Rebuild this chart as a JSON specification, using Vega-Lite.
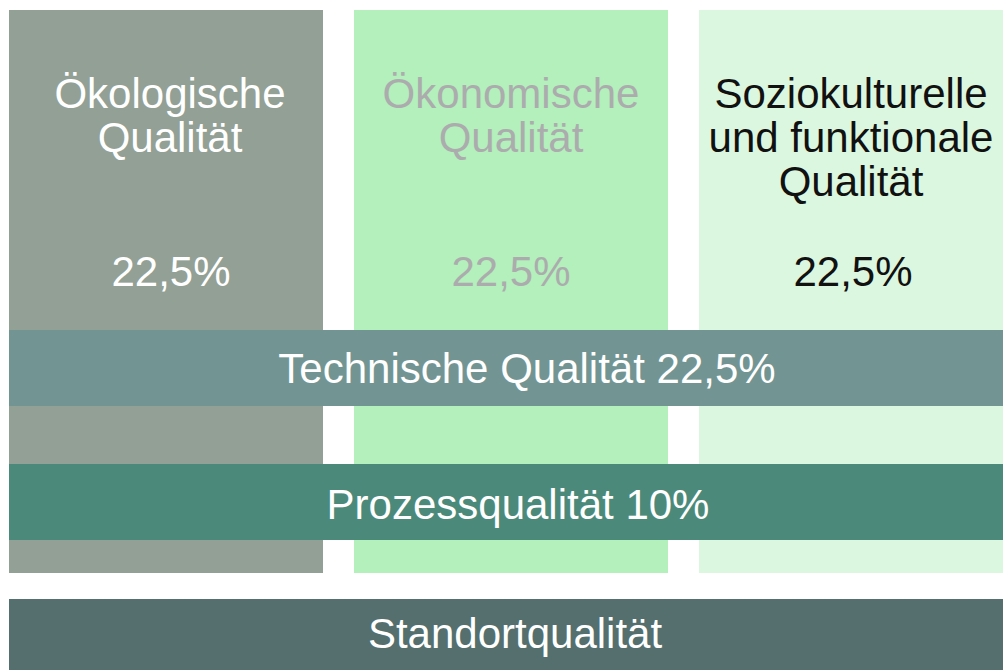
{
  "$schema": "https://vega.github.io/schema/vega-lite/v6.json",
  "width": 1003,
  "height": 670,
  "autosize": {"type": "fit", "contains": "padding"},
  "padding": 0,
  "background": "white",
  "config": {"view": {"stroke": null}},
  "datasets": {
    "boxes": [
      {"name": "Ökologische Qualität", "x0": 9, "x1": 323, "y0": 10, "y1": 573},
      {"name": "Ökonomische Qualität", "x0": 354, "x1": 668, "y0": 10, "y1": 573},
      {"name": "Soziokulturelle und funktionale Qualität", "x0": 699, "x1": 1003, "y0": 10, "y1": 573},
      {"name": "Technische Qualität", "x0": 9, "x1": 1003, "y0": 330, "y1": 406},
      {"name": "Prozessqualität", "x0": 9, "x1": 1003, "y0": 464, "y1": 540},
      {"name": "Standortqualität", "x0": 9, "x1": 1003, "y0": 599, "y1": 670}
    ],
    "labels": [
      {"group": "Ökologische Qualität", "label": "Ökologische\nQualität", "x": 170, "y": 108},
      {"group": "Ökologische Qualität", "label": "22,5%", "x": 171, "y": 286},
      {"group": "Ökonomische Qualität", "label": "Ökonomische\nQualität", "x": 511, "y": 108},
      {"group": "Ökonomische Qualität", "label": "22,5%", "x": 511, "y": 286},
      {"group": "Soziokulturelle und funktionale Qualität", "label": "Soziokulturelle\nund funktionale\nQualität", "x": 851, "y": 108},
      {"group": "Soziokulturelle und funktionale Qualität", "label": "22,5%", "x": 853, "y": 286},
      {"group": "Technische Qualität", "label": "Technische Qualität 22,5%", "x": 527, "y": 383},
      {"group": "Prozessqualität", "label": "Prozessqualität 10%", "x": 518, "y": 519},
      {"group": "Standortqualität", "label": "Standortqualität", "x": 515, "y": 648}
    ]
  },
  "layer": [
    {
      "data": {"name": "boxes"},
      "mark": {"type": "rect", "opacity": 1, "strokeWidth": 0},
      "encoding": {
        "x": {"field": "x0", "type": "quantitative", "scale": {"domain": [0, 1003], "nice": false, "zero": false}, "axis": null},
        "x2": {"field": "x1"},
        "y": {"field": "y0", "type": "quantitative", "scale": {"domain": [0, 670], "nice": false, "zero": false, "reverse": true}, "axis": null},
        "y2": {"field": "y1"},
        "fill": {
          "field": "name",
          "type": "nominal",
          "legend": null,
          "scale": {
            "domain": ["Ökologische Qualität", "Ökonomische Qualität", "Soziokulturelle und funktionale Qualität", "Technische Qualität", "Prozessqualität", "Standortqualität"],
            "range": ["#93a095", "#b3f0bb", "#dcf7df", "#729593", "#4b8a7a", "#546f6d"]
          }
        }
      }
    },
    {
      "data": {"name": "labels"},
      "mark": {"type": "text", "font": "Liberation Sans", "fontSize": 42, "lineHeight": 44, "lineBreak": "\n", "align": "center", "baseline": "alphabetic"},
      "encoding": {
        "x": {"field": "x", "type": "quantitative"},
        "y": {"field": "y", "type": "quantitative"},
        "text": {"field": "label", "type": "nominal"},
        "color": {
          "field": "group",
          "type": "nominal",
          "legend": null,
          "scale": {
            "domain": ["Ökologische Qualität", "Ökonomische Qualität", "Soziokulturelle und funktionale Qualität", "Technische Qualität", "Prozessqualität", "Standortqualität"],
            "range": ["#ffffff", "#acacae", "#111111", "#ffffff", "#ffffff", "#ffffff"]
          }
        }
      }
    }
  ]
}
